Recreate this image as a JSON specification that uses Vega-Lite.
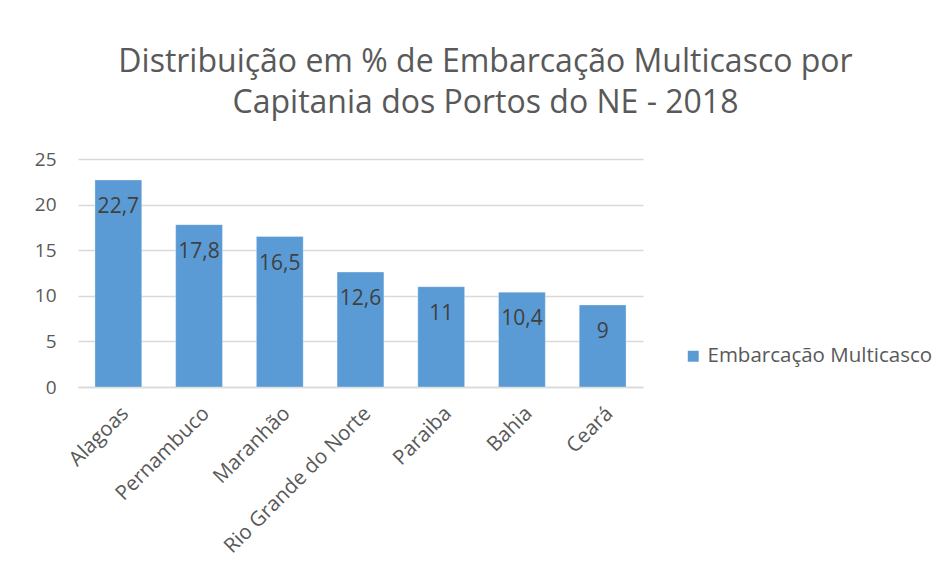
{
  "$schema": "https://vega.github.io/schema/vega-lite/v6.json",
  "autosize": "none",
  "width": 565,
  "height": 228,
  "padding": {"left": 78, "top": 159, "right": 307, "bottom": 194},
  "background": "white",
  "title": {
    "text": ["Distribuição em % de Embarcação Multicasco por", "Capitania dos Portos do NE - 2018"],
    "font": "Open Sans",
    "fontSize": 32,
    "fontWeight": "normal",
    "color": "#595959",
    "lineHeight": 41,
    "anchor": "middle",
    "frame": "group",
    "dx": 125,
    "offset": 30
  },
  "data": {
    "values": [
      {"capitania": "Alagoas", "valor": 22.7, "rotulo": "22,7", "serie": "Embarcação Multicasco"},
      {"capitania": "Pernambuco", "valor": 17.8, "rotulo": "17,8", "serie": "Embarcação Multicasco"},
      {"capitania": "Maranhão", "valor": 16.5, "rotulo": "16,5", "serie": "Embarcação Multicasco"},
      {"capitania": "Rio Grande do Norte", "valor": 12.6, "rotulo": "12,6", "serie": "Embarcação Multicasco"},
      {"capitania": "Paraiba", "valor": 11, "rotulo": "11", "serie": "Embarcação Multicasco"},
      {"capitania": "Bahia", "valor": 10.4, "rotulo": "10,4", "serie": "Embarcação Multicasco"},
      {"capitania": "Ceará", "valor": 9, "rotulo": "9", "serie": "Embarcação Multicasco"}
    ]
  },
  "encoding": {
    "x": {
      "field": "capitania",
      "type": "nominal",
      "sort": null,
      "scale": {"paddingInner": 0.42, "paddingOuter": 0.21},
      "axis": {
        "title": null,
        "labelAngle": -45,
        "labelFont": "Open Sans",
        "labelFontSize": 20.5,
        "labelColor": "#595959",
        "ticks": false,
        "domainColor": "#d9d9d9",
        "domainWidth": 1.5,
        "labelPadding": 16,
        "labelLimit": 0
      }
    },
    "y": {
      "field": "valor",
      "type": "quantitative",
      "scale": {"domain": [0, 25]},
      "axis": {
        "title": null,
        "values": [0, 5, 10, 15, 20, 25],
        "labelFont": "Open Sans",
        "labelFontSize": 19,
        "labelColor": "#595959",
        "ticks": false,
        "domain": false,
        "gridColor": "#d9d9d9",
        "gridWidth": 1.5,
        "labelPadding": 22
      }
    }
  },
  "layer": [
    {
      "mark": {"type": "bar", "stroke": "#ffffff", "strokeWidth": 0.5, "strokeOpacity": 0.6},
      "encoding": {
        "color": {
          "field": "serie",
          "type": "nominal",
          "scale": {"range": ["#5b9bd5"]},
          "legend": {
            "title": null,
            "orient": "none",
            "legendX": 605,
            "legendY": 187,
            "symbolType": "square",
            "symbolSize": 120,
            "symbolStrokeWidth": 0,
            "labelFont": "Open Sans",
            "labelFontSize": 20.5,
            "labelColor": "#595959",
            "labelOffset": 4,
            "labelLimit": 0
          }
        }
      }
    },
    {
      "mark": {"type": "text", "baseline": "middle", "dy": 27, "font": "Open Sans", "fontSize": 21, "color": "#404040"},
      "encoding": {"text": {"field": "rotulo"}}
    }
  ],
  "config": {"view": {"stroke": null}}
}
